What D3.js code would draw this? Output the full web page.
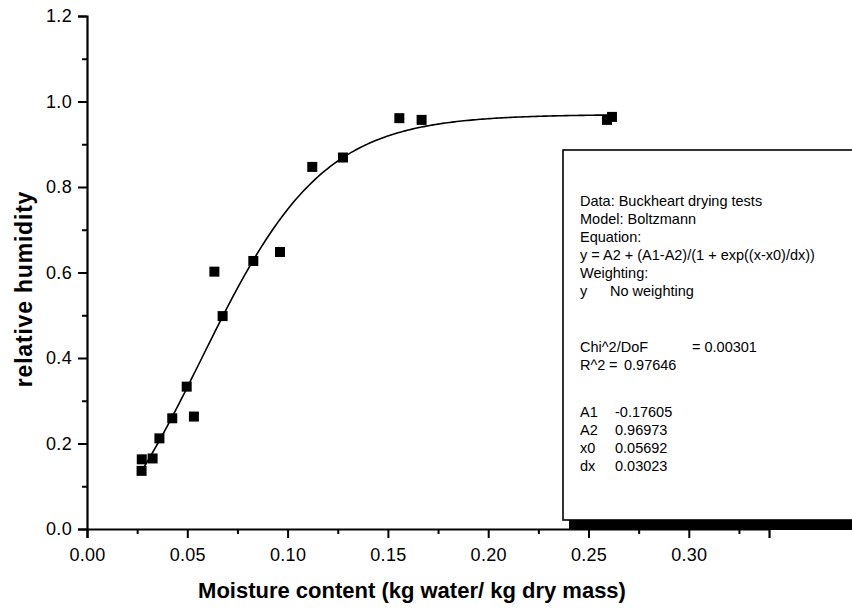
<!DOCTYPE html>
<html>
<head>
<meta charset="utf-8">
<script src="https://cdn.jsdelivr.net/npm/d3@7"></script>
<style>
  html, body { margin: 0; padding: 0; background: #fff; }
  svg { display: block; font-family: "Liberation Sans", Arial, sans-serif; }
</style>
</head>
<body>
<svg id="chart" width="852" height="609"></svg>
<script>
// Moisture content (kg water / kg dry mass) of each drying test sample
const moisture = [0.0272, 0.0273, 0.0327, 0.0361, 0.0425, 0.0497, 0.0533, 0.0635, 0.0676,
                  0.0829, 0.0962, 0.1123, 0.1276, 0.1557, 0.1668, 0.2592, 0.2617];
// Relative humidity measured for each sample
const humidity = [0.136, 0.163, 0.165, 0.212, 0.259, 0.333, 0.263, 0.602, 0.498,
                  0.627, 0.648, 0.847, 0.869, 0.961, 0.957, 0.957, 0.964];

// Boltzmann fit parameters
const fitNames = ["A1", "A2", "x0", "dx"];
const fitValues = [-0.17605, 0.96973, 0.05692, 0.03023];

const xTicks = [0.00, 0.05, 0.10, 0.15, 0.20, 0.25, 0.30];
const yTicks = [0.0, 0.2, 0.4, 0.6, 0.8, 1.0, 1.2];

const infoLines = [
  "Data: Buckheart drying tests",
  "Model: Boltzmann",
  "Equation:",
  "y = A2 + (A1-A2)/(1 + exp((x-x0)/dx))",
  "Weighting:"
];

const svg = d3.select("#chart");
const plotLeft = 87, plotTop = 16, plotBottom = 529;

const x = d3.scaleLinear().domain([0, 0.34]).range([plotLeft, plotLeft + 0.34 * 2006]);
const y = d3.scaleLinear().domain([0, 1.2]).range([plotBottom, plotTop]);

const [A1, A2, x0, dx] = fitValues;
const boltzmann = v => A2 + (A1 - A2) / (1 + Math.exp((v - x0) / dx));

// Axes: major ticks with labels, minor ticks in between
const xMinor = d3.range(0.025, 0.33, 0.05);
const yMinor = d3.range(0.1, 1.2, 0.2);

const axisG = svg.append("g");

axisG.append("g")
  .attr("transform", `translate(0,${plotBottom})`)
  .call(d3.axisBottom(x).tickValues(xMinor).tickSize(5).tickFormat(""))
  .call(g => g.select(".domain").remove());
axisG.append("g")
  .attr("transform", `translate(0,${plotBottom})`)
  .call(d3.axisBottom(x).tickValues(xTicks).tickSize(9).tickPadding(10).tickFormat(d3.format(".2f")))
  .call(g => g.select(".domain").attr("stroke-width", 2.2));

axisG.append("g")
  .attr("transform", `translate(${plotLeft},0)`)
  .call(d3.axisLeft(y).tickValues(yMinor).tickSize(5).tickFormat(""))
  .call(g => g.select(".domain").remove());
axisG.append("g")
  .attr("transform", `translate(${plotLeft},0)`)
  .call(d3.axisLeft(y).tickValues(yTicks).tickSize(9).tickPadding(6).tickFormat(d3.format(".1f")))
  .call(g => g.select(".domain").attr("stroke-width", 2.2));

axisG.selectAll(".tick line").attr("stroke", "#000").attr("stroke-width", 2);
axisG.selectAll(".tick text")
  .attr("font-family", "'Liberation Sans', Arial, sans-serif")
  .attr("font-size", 18)
  .attr("letter-spacing", 0.3)
  .attr("fill", "#000");

// Fitted curve across the measured moisture range
const [xMin, xMax] = d3.extent(moisture);
const curvePts = d3.range(0, 201).map(i => {
  const v = xMin + (xMax - xMin) * i / 200;
  return [v, boltzmann(v)];
});
svg.append("path")
  .datum(curvePts)
  .attr("fill", "none")
  .attr("stroke", "#000")
  .attr("stroke-width", 1.6)
  .attr("d", d3.line().x(d => x(d[0])).y(d => y(d[1])));

// Measured points
const ms = 10;
svg.append("g")
  .selectAll("rect")
  .data(moisture.map((m, i) => [m, humidity[i]]))
  .join("rect")
  .attr("x", d => x(d[0]) - ms / 2)
  .attr("y", d => y(d[1]) - ms / 2)
  .attr("width", ms)
  .attr("height", ms)
  .attr("fill", "#000");

// Axis titles
svg.append("text")
  .attr("x", 412).attr("y", 598)
  .attr("text-anchor", "middle")
  .attr("font-size", 22).attr("font-weight", "bold")
  .text("Moisture content (kg water/ kg dry mass)");

svg.append("text")
  .attr("transform", "translate(32,289) rotate(-90)")
  .attr("text-anchor", "middle")
  .attr("font-size", 23).attr("font-weight", "bold")
  .attr("letter-spacing", 0.8)
  .text("relative humidity");

// Fit report box with drop shadow
const boxX = 563, boxY = 150, boxW = 320, boxH = 370;
svg.append("rect")
  .attr("x", boxX + 6).attr("y", boxY + 10)
  .attr("width", boxW).attr("height", boxH)
  .attr("fill", "#000");
svg.append("rect")
  .attr("x", boxX).attr("y", boxY)
  .attr("width", boxW).attr("height", boxH)
  .attr("fill", "#fff").attr("stroke", "#000").attr("stroke-width", 1.6);

const info = svg.append("g")
  .attr("font-size", 14.5)
  .attr("fill", "#000");

info.selectAll("text.head")
  .data(infoLines)
  .join("text")
  .attr("class", "head")
  .attr("x", 580)
  .attr("y", (d, i) => 206 + i * 18)
  .text(d => d);

info.append("text").attr("x", 580).attr("y", 296).text("y");
info.append("text").attr("x", 610).attr("y", 296).text("No weighting");

info.append("text").attr("x", 580).attr("y", 352).text("Chi^2/DoF");
info.append("text").attr("x", 692).attr("y", 352).text("= 0.00301");
info.append("text").attr("x", 580).attr("y", 370).text("R^2");
info.append("text").attr("x", 609).attr("y", 370).text("=");
info.append("text").attr("x", 624).attr("y", 370).text("0.97646");

info.selectAll("text.param")
  .data(fitNames)
  .join("text")
  .attr("class", "param")
  .attr("x", 580)
  .attr("y", (d, i) => 417 + i * 18)
  .text(d => d);

info.selectAll("text.pval")
  .data(fitValues)
  .join("text")
  .attr("class", "pval")
  .attr("x", 615)
  .attr("y", (d, i) => 417 + i * 18)
  .text(d => d3.format(".5f")(d).replace("\u2212", "-"));
</script>
</body>
</html>
